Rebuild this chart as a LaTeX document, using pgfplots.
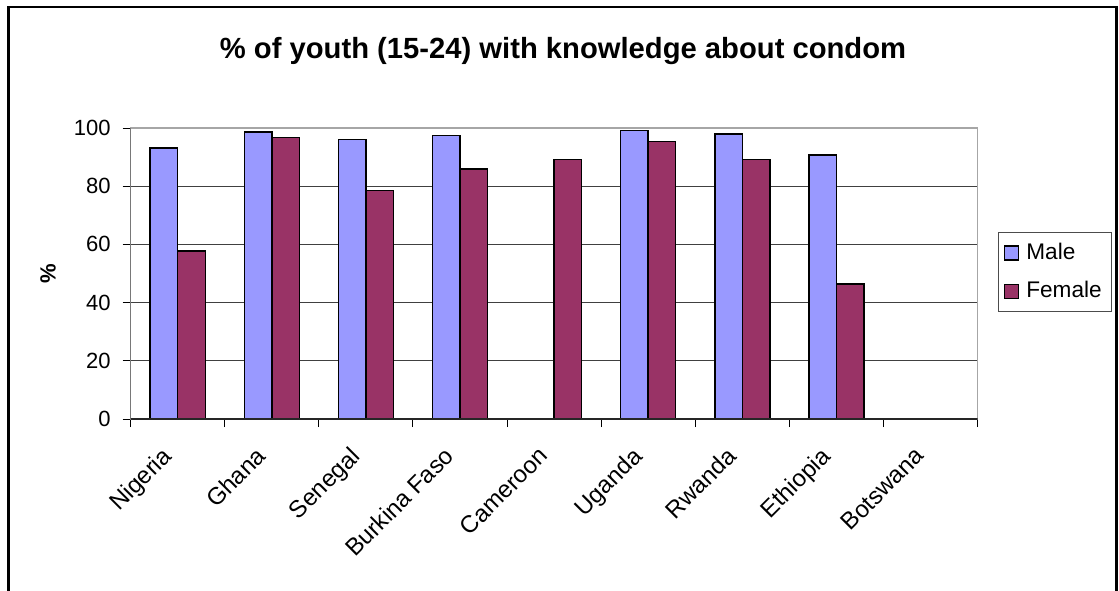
\documentclass[border=0pt]{standalone}
\usepackage{pgfplots}
\pgfplotsset{compat=1.18}
\usepackage{fontspec}
\setmainfont{Liberation Sans}
\definecolor{male}{HTML}{9999FF}
\definecolor{female}{HTML}{993366}
\begin{document}
\begin{tikzpicture}
\path[use as bounding box] (0,0) rectangle (559.5pt,295pt);
\draw[line width=1.3pt] (4.25pt,-5pt) -- (4.25pt,291.5pt) -- (558.35pt,291.5pt) -- (558.35pt,-5pt);
\node[font=\fontsize{14.6}{17}\selectfont\bfseries] at (281.5pt,269.5pt) {\% of youth (15-24) with knowledge about condom};
\begin{axis}[
  at={(65.35pt,85.5pt)}, anchor=south west,
  width=423.45pt, height=145.5pt, scale only axis,
  xmin=-0.5, xmax=8.5, ymin=0, ymax=100,
  ybar=0pt, bar width=13.75pt,
  xtick={0,...,8},
  xticklabels={Nigeria,Ghana,Senegal,Burkina Faso,Cameroon,Uganda,Rwanda,Ethiopia,Botswana},
  minor xtick={-0.5,0.5,...,8.5},
  major x tick style={draw=none},
  xtick pos=bottom, ytick pos=left,
  ytick={0,20,...,100},
  tick align=outside,
  major tick length=4pt, minor tick length=4pt,
  tick style={black, line width=0.5pt},
  ymajorgrids, grid style={black!75, line width=0.5pt},
  axis line style={draw=gray!70, line width=0.6pt},
  /pgf/number format/assume math mode=true,
  ticklabel style={font=\fontsize{11}{13}\selectfont},
  yticklabel style={xshift=-2.5pt},
  xticklabel style={xshift=-8.5pt, yshift=-9pt, rotate=45, anchor=north east, inner sep=0pt, font=\fontsize{12}{14}\selectfont},
  ylabel={\%},
  ylabel style={font=\fontsize{11}{13}\selectfont\bfseries, at={(axis description cs:-0.0977,0.5)}, anchor=center},
  legend style={at={(axis description cs:1.0237,0.6436)}, anchor=north west,
    draw=black!70, line width=0.5pt, font=\fontsize{11.3}{13}\selectfont,
    inner xsep=3pt, inner ysep=3.5pt, row sep=5.5pt,
    /tikz/every odd column/.append style={column sep=1.5pt}},
  legend cell align=left,
  legend image code/.code={\draw[#1, draw=black, line width=0.6pt] (0pt,-3.5pt) rectangle (7pt,3.5pt);},
]
\addplot[fill=male, draw=black, line width=0.75pt] coordinates {(0,93.2)(1,98.6)(2,96.0)(3,97.5)(5,99.2)(6,97.9)(7,90.7)};
\addlegendentry{Male}
\addplot[fill=female, draw=black, line width=0.75pt] coordinates {(0,57.7)(1,96.8)(2,78.6)(3,85.9)(4,89.2)(5,95.3)(6,89.2)(7,46.4)};
\addlegendentry{Female}
\draw[black!85, line width=0.6pt] (rel axis cs:0,1) -- (rel axis cs:0,0) -- (rel axis cs:1,0);
\end{axis}
\end{tikzpicture}
\end{document}
